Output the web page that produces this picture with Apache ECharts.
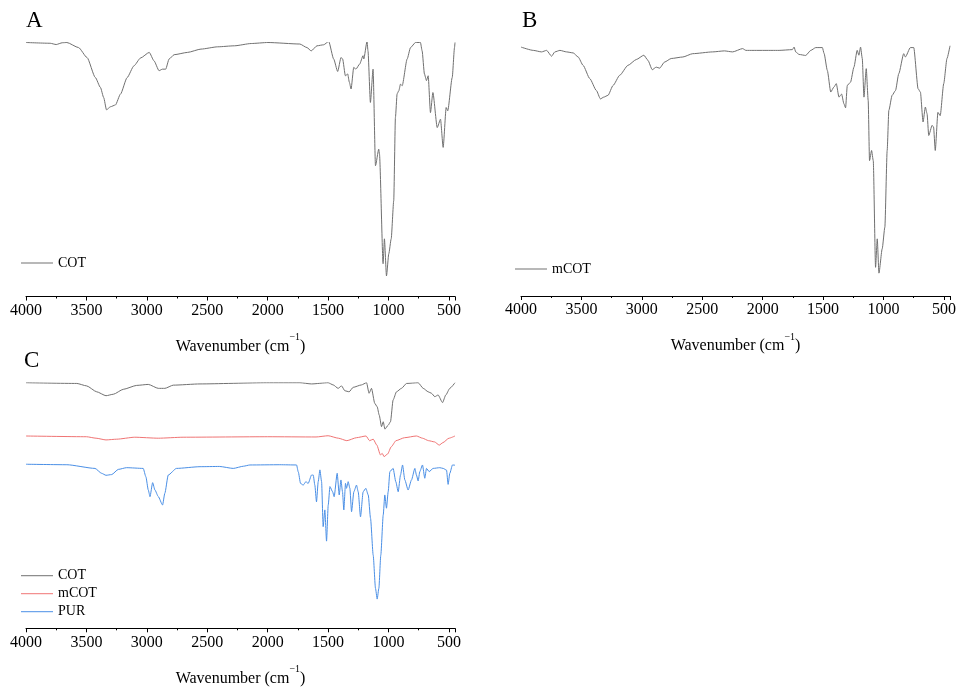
<!DOCTYPE html>
<html>
<head>
<meta charset="utf-8">
<script src="https://cdn.jsdelivr.net/npm/echarts@6/dist/echarts.min.js"></script>
<style>html,body{margin:0;padding:0;background:#fff}#c{width:965px;height:691px}</style>
</head>
<body>
<div id="c"></div>
<script>
// ---- Data (wavenumber in cm^-1, transmittance in arbitrary %) ----
var xTickLabels = [4000, 3500, 3000, 2500, 2000, 1500, 1000, 500];

// Panel A : COT
var cotA_wn = [4000,3800,3750,3700,3662,3565,3495,3426,3384,3357,3334,3301,3260,3218,3163,3107,3052,2980,2941,2899,2871,2844,2816,2774,2663,2552,2414,2275,2136,1998,1734,1675,1640,1592,1537,1495,1454,1421,1393,1380,1357,1338,1324,1310,1288,1270,1239,1211,1205,1178,1170,1150,1128,1108,1081,1075,1045,1034,1017,998,978,957,943,929,915,901,887,846,818,777,736,722,703,686,672,653,633,597,570,548,523,510,473,454,450];
var cotA_T  = [100,99.7,99.2,99.9,100,98,94.1,86.2,82.3,78.3,73.5,74.7,75.4,79.7,86.2,90.8,93.9,96.1,92.8,88.9,89.5,89.5,93.5,95.2,96.1,97.4,98.3,98.7,99.6,100,99.4,98,96.7,98.7,99.1,100.4,93.5,88.6,94.1,93.5,86.9,87.6,84.3,81.7,90.2,89.5,91.5,94.8,93.5,100.4,96.7,76.4,89.5,51.5,58,56.1,12.9,22.7,8.1,16.8,22.7,37.7,70.5,79.8,81,83.6,83,93.5,98,100,100,96.7,87.6,85,86.9,72.4,80.3,66.5,69.8,58.7,74.4,73.1,86.2,98,100];

// Panel B : mCOT
var mcotB_wn = [4000,3898,3830,3788,3747,3720,3678,3623,3568,3527,3486,3431,3376,3343,3315,3280,3238,3183,3115,3046,2983,2950,2914,2881,2853,2812,2757,2661,2579,2414,2317,2249,2166,2139,2001,1864,1754,1740,1727,1699,1644,1602,1561,1506,1492,1465,1437,1410,1391,1369,1347,1328,1314,1300,1273,1245,1218,1204,1190,1176,1162,1143,1127,1116,1099,1085,1066,1052,1038,1011,989,970,956,929,901,874,833,819,778,750,714,695,673,654,640,626,598,586,572,550,531,502,475,450];
var mcotB_T  = [98,96.7,96.1,96.7,94.4,96.1,96.7,96.1,95.7,94.1,90.8,85.6,80.9,77.6,78.3,79,82.9,86.9,90.8,93.1,94.8,92.8,89.1,90.1,89.7,92.1,93.5,94.1,95.4,96.1,96.5,96.1,97.4,96.7,96.7,96.7,97,98,96.1,95.1,94.7,96.7,97.8,97.8,95.5,88.8,80.3,82.3,83.6,78.3,79.5,75.7,74.1,82.9,84.2,90.1,96.7,94.8,98,93.5,78.3,89.5,77,53.3,57.3,53.3,11.3,22.5,9,18.6,27.1,57.3,73.1,79,80.9,87.5,95.4,94.1,97.8,97.8,81.6,80.3,68.5,74.4,71.8,63.2,67.2,66.5,57.3,72.3,71,83.6,93.5,98.5];

// Panel C : COT, mCOT, PUR
var cotC_wn = [4000,3580,3498,3415,3338,3277,3195,3084,2988,2905,2851,2781,2560,2010,1733,1638,1500,1458,1417,1389,1361,1326,1293,1224,1182,1161,1141,1114,1094,1077,1058,1044,1030,1003,984,962,934,893,851,755,713,672,645,617,590,553,526,493,450];
var cotC_T  = [100,99.7,98.7,96.3,94.7,95.3,97.3,98.9,99.3,97.7,97.7,99,99.5,100,100,99.5,100,99.1,97.7,98.7,96.7,96.3,98.1,99.1,100,95.7,97.7,91.6,90.2,86.8,82.1,84.1,81.1,82.7,84.1,93,96.3,97.7,99.7,100,97.7,96.3,95.7,94.3,95,91.9,95,97.7,100];

var mcotC_wn = [4000,3500,3420,3338,3250,3100,2905,2700,2000,1600,1500,1415,1345,1266,1186,1157,1127,1097,1067,1052,1037,1007,978,938,868,769,719,669,620,580,550,500,450];
var mcotC_T  = [78.3,78,77.4,76.7,77,77.8,77.4,77.8,78,77.9,78.4,77.4,76.4,77.6,78.3,76.4,77,74.6,70.6,71.2,69.9,71,73.9,76.4,77.6,78.3,77.4,76.4,75.9,74.6,75.6,77.4,78.3];

var purC_wn = [4000,3662,3429,3374,3338,3291,3236,3168,3030,3008,2988,2974,2952,2933,2905,2870,2851,2823,2755,2560,2400,2285,2200,2147,1900,1761,1747,1728,1706,1684,1665,1637,1623,1610,1596,1582,1568,1554,1541,1527,1513,1499,1485,1463,1450,1425,1408,1394,1381,1370,1356,1348,1334,1320,1306,1287,1265,1251,1232,1210,1188,1168,1149,1127,1108,1094,1080,1064,1044,1031,1017,1003,989,962,940,920,901,884,865,838,810,782,769,755,741,719,700,686,664,631,576,548,520,507,493,471,450];
var purC_T  = [66.8,66.6,65.1,63.1,62.3,62.6,64.7,65.4,65.1,61.7,56.3,53.6,59.3,56.3,53.6,50.2,55,62.4,65.1,65.8,65.9,65.1,66,66.5,66.6,66.5,63.7,59,58.3,59.7,59,62.4,62.4,58.3,51.5,59.7,64.5,59.7,41.4,48.2,35.5,50.2,57.7,55.6,53.6,63.1,54.3,60.4,55.6,48.2,59,57,59.7,57,47.5,55.6,58.3,55.6,45.4,55.6,57,54.3,44.8,29.8,16.3,11.9,16.3,29.8,46.1,54.3,48.9,55.6,63.8,65.1,59.7,55.6,62.4,66.5,60.4,56.3,60.4,65.1,62.4,60,63.8,66.5,61.1,65.1,63.8,65.1,65.4,65.1,64.4,58.6,63.1,66.5,66.4];

// ---- Build ----
function pts(wn, t) { return wn.map(function (w, i) { return [-w, t[i]]; }); }
var SERIF = "'Liberation Serif','Times New Roman',serif";

function xAxisFor(g) {
  return {
    type: 'value', gridIndex: g, min: -4000, max: -450, interval: 500,
    axisLine: { show: true, onZero: false, lineStyle: { color: '#000', width: 1 } },
    axisTick: { show: true, inside: false, length: 4, lineStyle: { color: '#000', width: 1 } },
    minorTick: { show: true, splitNumber: 2, length: 2, lineStyle: { color: '#000', width: 1 } },
    splitLine: { show: false },
    axisLabel: {
      color: '#000', fontFamily: SERIF, fontSize: 16, margin: 6, showMaxLabel: false,
      formatter: function (v) { var a = Math.abs(v); return xTickLabels.indexOf(a) >= 0 ? String(a) : ''; }
    },
    name: '{a|Wavenumber (cm}{s|\u22121}{a|)}',
    nameLocation: 'middle', nameGap: 36,
    nameTextStyle: {
      color: '#000', fontFamily: SERIF, fontSize: 16,
      rich: {
        a: { fontFamily: SERIF, fontSize: 16, color: '#000', lineHeight: 22, verticalAlign: 'bottom' },
        s: { fontFamily: SERIF, fontSize: 10, color: '#000', lineHeight: 10, verticalAlign: 'top' }
      }
    }
  };
}
function yAxisFor(g) {
  return { type: 'value', gridIndex: g, min: 0, max: 100, show: false };
}
function line(name, g, data, color) {
  return {
    name: name, type: 'line', xAxisIndex: g, yAxisIndex: g, data: data,
    symbol: 'none', showSymbol: false, smooth: 0.2, smoothMonotone: 'x',
    lineStyle: { color: color, width: 1 }, itemStyle: { color: color },
    emphasis: { disabled: true }, silent: true
  };
}
var GRAY = '#707070', RED = '#f07474', BLUE = '#4a8fe6';
function fmt(n) { return n.split('_')[0]; }
var legendBase = {
  orient: 'vertical', padding: 0, itemWidth: 32, itemHeight: 14, itemGap: 4,
  icon: 'path://M0,0H32V1H0Z', symbolKeepAspect: true,
  textStyle: { color: '#000', fontFamily: SERIF, fontSize: 14 },
  formatter: fmt, selectedMode: false
};

var option = {
  animation: false,
  backgroundColor: '#fff',
  grid: [
    { left: 26, top: 42.5, width: 429, height: 254, outerBoundsMode: 'none', containLabel: false },
    { left: 521, top: 42, width: 429, height: 254, outerBoundsMode: 'none', containLabel: false },
    { left: 26, top: 382.7, width: 429, height: 245.6, outerBoundsMode: 'none', containLabel: false }
  ],
  xAxis: [xAxisFor(0), xAxisFor(1), xAxisFor(2)],
  yAxis: [yAxisFor(0), yAxisFor(1), yAxisFor(2)],
  legend: [
    Object.assign({}, legendBase, { left: 21, top: 256, data: ['COT_A'] }),
    Object.assign({}, legendBase, { left: 515, top: 262, data: ['mCOT_B'] }),
    Object.assign({}, legendBase, { left: 21, top: 568.7, data: ['COT_C', 'mCOT_C', 'PUR_C'] })
  ],
  graphic: [
    { type: 'text', left: 26, top: 9, style: { text: 'A', fontFamily: SERIF, fontSize: 23, fill: '#000' } },
    { type: 'text', left: 522, top: 9, style: { text: 'B', fontFamily: SERIF, fontSize: 23, fill: '#000' } },
    { type: 'text', left: 24, top: 349, style: { text: 'C', fontFamily: SERIF, fontSize: 23, fill: '#000' } }
  ],
  series: [
    line('COT_A', 0, pts(cotA_wn, cotA_T), GRAY),
    line('mCOT_B', 1, pts(mcotB_wn, mcotB_T), GRAY),
    line('COT_C', 2, pts(cotC_wn, cotC_T), GRAY),
    line('mCOT_C', 2, pts(mcotC_wn, mcotC_T), RED),
    line('PUR_C', 2, pts(purC_wn, purC_T), BLUE)
  ]
};
var chart = echarts.init(document.getElementById('c'), null, { renderer: 'canvas' });
chart.setOption(option);
</script>
</body>
</html>
